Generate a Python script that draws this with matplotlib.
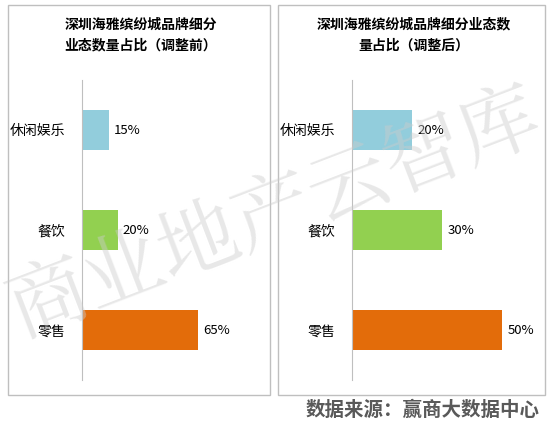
import matplotlib.pyplot as plt
from matplotlib.patches import Rectangle

plt.rcParams['font.family'] = ['Noto Sans CJK SC', 'DejaVu Sans']

categories = ['零售', '餐饮', '休闲娱乐']
before = [65, 20, 15]
after = [50, 30, 20]
colors = ['#e36c0a', '#92d050', '#92cddc']
titles = ['深圳海雅缤纷城品牌细分\n业态数量占比（调整前）',
          '深圳海雅缤纷城品牌细分业态数\n量占比（调整后）']

W, H = 550, 430
fig = plt.figure(figsize=(5.5, 4.3), dpi=100)

# panel frames
for x0, x1 in [(8, 270), (278, 545)]:
    fig.patches.append(Rectangle((x0 / W, 1 - 395 / H), (x1 - x0) / W, 390 / H,
                                 transform=fig.transFigure, fill=False,
                                 edgecolor='#bfbfbf', lw=1))

panels = [(82, 260, 100, before, titles[0]), (352, 535, 61, after, titles[1])]
for ax_l, ax_r, xmax, vals, title in panels:
    ax = fig.add_axes([ax_l / W, 1 - 380 / H, (ax_r - ax_l) / W, 300 / H])
    y = range(len(categories))
    ax.barh(y, vals, height=0.4, color=colors)
    for yi, v in zip(y, vals):
        ax.text(v + xmax * 0.03, yi, f'{v}%', va='center', fontsize=9.5)
    ax.set_xlim(0, xmax)
    ax.set_ylim(-0.5, 2.5)
    ax.set_yticks(list(y))
    ax.set_yticklabels(categories, fontsize=10)
    ax.set_xticks([])
    for s in ['top', 'right', 'bottom']:
        ax.spines[s].set_visible(False)
    ax.spines['left'].set_color('#bfbfbf')
    ax.tick_params(axis='y', length=0, pad=12)
    cx = ((ax_l - 70) + (ax_r + 10)) / 2
    fig.text(cx / W, 1 - 35 / H, title, ha='center', va='center',
             fontsize=10, fontweight='bold', linespacing=1.6)

fig.text(0.5, 0.5, '商业地产云智库', ha='center', va='center', fontsize=58,
         color='#cccccc', alpha=0.45, rotation=21, family='Noto Serif CJK SC')
fig.text(540 / W, 1 - 410 / H, '数据来源：赢商大数据中心', ha='right', va='center',
         fontsize=14, fontweight='bold', color='#595959')

fig.savefig('out.png', dpi=100)
